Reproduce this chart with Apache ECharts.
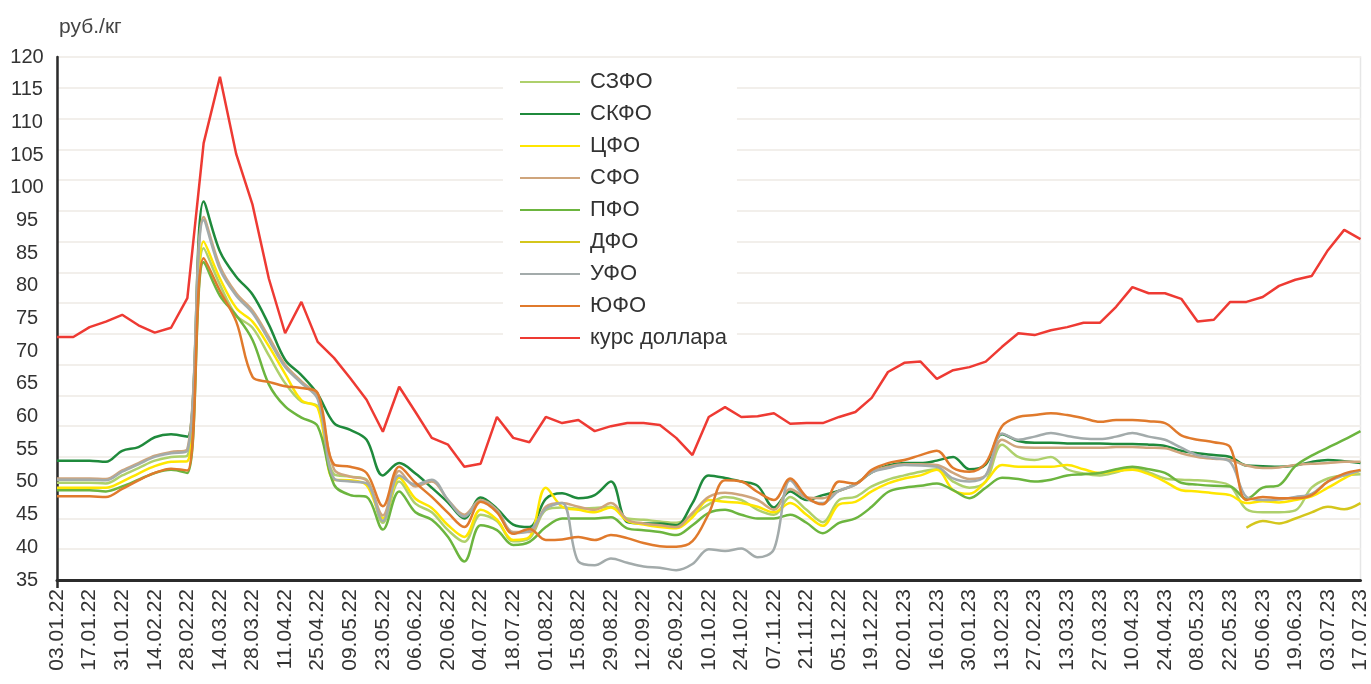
<!DOCTYPE html>
<html><head><meta charset="utf-8">
<script src="https://cdn.jsdelivr.net/npm/echarts@6/dist/echarts.min.js"></script>
<style>html,body{margin:0;padding:0;background:#fff}#c{width:1371px;height:684px}</style>
</head><body><div id="c"></div>
<script>
const dates = ['03.01.22','10.01.22','17.01.22','24.01.22','31.01.22','07.02.22','14.02.22','21.02.22','28.02.22','07.03.22',
'14.03.22','21.03.22','28.03.22','04.04.22','11.04.22','18.04.22','25.04.22','02.05.22','09.05.22','16.05.22',
'23.05.22','30.05.22','06.06.22','13.06.22','20.06.22','27.06.22','04.07.22','11.07.22','18.07.22','25.07.22',
'01.08.22','08.08.22','15.08.22','22.08.22','29.08.22','05.09.22','12.09.22','19.09.22','26.09.22','03.10.22',
'10.10.22','17.10.22','24.10.22','31.10.22','07.11.22','14.11.22','21.11.22','28.11.22','05.12.22','12.12.22',
'19.12.22','26.12.22','02.01.23','09.01.23','16.01.23','23.01.23','30.01.23','06.02.23','13.02.23','20.02.23',
'27.02.23','06.03.23','13.03.23','20.03.23','27.03.23','03.04.23','10.04.23','17.04.23','24.04.23','01.05.23',
'08.05.23','15.05.23','22.05.23','29.05.23','05.06.23','12.06.23','19.06.23','26.06.23','03.07.23','10.07.23','17.07.23'];

const yTickLabels = ['35','40','45','50','55','60','65','70','75','80','85','95','100','105','110','115','120'];

const szfo = [50.8,50.8,50.8,50.7,52.0,53.2,54.4,55.0,55.2,88.9,
83.0,78.0,76.0,71.5,67.0,64.0,63.2,52.2,51.8,51.3,
44.3,51.0,47.4,46.0,43.1,41.2,45.6,44.6,41.3,41.8,
46.4,46.8,46.6,46.7,46.9,45.0,44.8,44.5,44.3,45.6,
47.3,48.5,48.0,46.4,45.6,48.5,46.4,44.4,48.0,48.5,
50.2,51.3,52.0,52.6,53.0,51.0,50.0,51.0,57.0,55.0,
54.5,55.0,53.0,52.3,52.0,52.5,53.2,52.5,51.5,51.3,
51.2,51.0,50.3,46.5,46.0,46.0,46.3,50.0,51.5,52.0,52.2];

const skfo = [54.4,54.4,54.4,54.2,56.0,56.6,58.2,58.7,58.3,96.5,
88.4,84.3,81.4,76.5,70.8,68.3,65.2,60.5,59.4,57.8,
52.0,54.0,52.3,50.0,47.6,45.0,48.4,46.6,44.0,43.6,
48.2,49.1,48.3,48.8,51.0,44.4,44.2,44.2,43.9,47.5,
52.0,51.6,51.0,50.3,46.8,49.4,48.0,48.8,49.5,50.6,
52.5,53.6,54.0,54.0,54.4,55.0,53.0,53.8,58.7,57.6,
57.3,57.3,57.2,57.2,57.2,57.1,57.1,57.0,56.8,56.0,
55.6,55.3,55.0,53.6,53.5,53.4,53.6,54.2,54.5,54.3,54.0];

const cfo = [50.0,50.0,50.0,50.0,51.0,52.3,53.5,54.2,54.3,90.0,
84.0,79.2,77.0,73.0,68.5,64.2,63.0,51.3,51.2,50.4,
45.0,51.6,48.2,46.7,43.9,42.0,46.4,44.8,41.5,42.0,
50.0,46.9,46.4,46.0,46.8,44.6,44.0,43.6,43.4,45.2,
48.0,47.7,47.5,46.9,46.0,47.5,45.6,43.8,47.3,47.7,
49.4,50.7,51.5,52.0,52.9,49.6,49.0,51.0,53.7,53.4,
53.4,53.4,53.7,53.0,52.4,52.7,52.9,52.2,51.0,49.6,
49.4,49.1,48.8,47.5,47.8,47.6,48.0,48.6,50.0,51.5,52.8];

const sfo = [51.5,51.5,51.5,51.4,52.8,54.0,55.2,55.8,56.3,94.0,
86.0,81.6,78.8,74.5,70.0,67.3,64.7,53.0,51.8,51.2,
45.5,52.7,50.2,51.0,48.0,45.6,48.0,46.4,42.8,42.8,
46.9,47.5,46.9,46.4,47.5,44.8,44.2,43.9,43.6,45.9,
48.5,49.2,48.8,48.0,46.4,49.8,48.4,48.3,49.5,50.5,
52.6,53.4,53.8,53.8,53.7,52.4,51.4,52.0,57.8,56.6,
56.5,56.5,56.5,56.5,56.5,56.6,56.6,56.5,56.4,55.6,
55.0,54.7,54.5,53.6,53.2,53.3,53.7,53.9,54.0,54.2,54.2];

const pfo = [49.6,49.6,49.6,49.4,50.2,51.3,52.4,52.9,52.4,86.7,
81.2,78.0,74.0,66.8,63.2,61.4,60.0,50.5,48.8,48.5,
43.2,49.4,46.0,44.8,42.0,38.0,43.9,43.1,40.7,41.2,
43.6,45.0,45.0,45.0,45.2,43.4,43.1,42.8,42.3,43.9,
45.9,46.4,45.6,45.0,45.0,45.6,44.3,42.6,44.3,45.0,
46.9,49.3,50.0,50.3,50.7,49.6,48.3,50.0,51.6,51.4,
51.0,51.3,52.0,52.2,52.4,53.0,53.4,53.0,52.4,50.8,
50.5,50.3,50.2,48.2,50.0,50.4,53.5,55.2,56.5,57.8,59.2];

const dfo = [null,null,null,null,null,null,null,null,null,null,
null,null,null,null,null,null,null,null,null,null,
null,null,null,null,null,null,null,null,null,null,
null,null,null,null,null,null,null,null,null,null,
null,null,null,null,null,null,null,null,null,null,
null,null,null,null,null,null,null,null,null,null,
null,null,null,null,null,null,null,null,null,null,
null,null,null,43.5,44.6,44.2,45.0,46.0,46.9,46.5,47.5];

const ufo = [51.3,51.3,51.3,51.2,52.6,53.8,55.0,55.6,56.0,93.5,
85.5,81.2,78.4,74.0,69.6,67.0,64.4,51.5,51.0,50.7,
44.6,52.0,50.5,51.3,48.0,45.3,47.8,46.2,42.6,43.0,
46.6,47.5,38.0,37.4,38.5,37.8,37.2,37.0,36.6,37.6,
40.0,39.7,40.1,38.7,40.0,51.2,48.3,47.5,49.5,50.5,
52.5,53.2,53.7,53.6,53.4,51.5,51.0,52.0,58.8,57.8,
58.3,58.9,58.4,58.0,57.9,58.3,58.9,58.3,57.8,56.5,
55.3,54.8,54.2,48.5,48.0,48.1,48.5,49.0,51.0,52.0,52.8];

const yufo = [48.6,48.6,48.6,48.5,49.8,51.2,52.4,53.1,52.8,87.3,
82.0,77.0,68.0,67.2,66.5,66.2,65.4,53.8,53.4,52.4,
47.0,53.4,50.8,48.5,45.9,43.6,47.7,46.0,42.5,43.3,
41.5,41.6,42.0,41.5,42.3,41.8,41.0,40.5,40.4,41.3,
45.8,51.2,51.0,49.3,48.0,51.5,48.5,47.3,51.0,50.7,
52.9,54.0,54.5,55.3,56.0,53.2,52.6,54.0,60.0,61.5,
61.8,62.1,61.8,61.3,60.7,61.0,61.0,60.8,60.5,58.5,
57.8,57.4,56.6,48.0,48.5,48.3,48.3,48.8,51.0,52.3,52.9];

const usd = [74.5,74.5,76.1,77.0,78.1,76.4,75.2,76.0,80.8,106.0,
116.8,104.2,96.0,84.0,75.1,80.2,73.7,71.1,67.8,64.3,
59.1,66.4,62.3,58.1,57.0,53.4,53.9,61.5,58.1,57.4,
61.5,60.5,61.0,59.2,60.0,60.5,60.5,60.2,58.1,55.3,
61.5,63.1,61.5,61.6,62.1,60.4,60.5,60.5,61.5,62.3,
64.6,68.8,70.3,70.5,67.7,69.1,69.6,70.5,72.9,75.1,
74.8,75.6,76.1,76.8,76.8,79.4,82.6,81.6,81.6,80.7,
77.0,77.3,80.2,80.2,81.0,82.8,83.8,84.4,88.6,91.9,90.4];

const seriesNames = ['СЗФО','СКФО','ЦФО','СФО','ПФО','ДФО','УФО','ЮФО','курс доллара'];
const seriesData = [szfo, skfo, cfo, sfo, pfo, dfo, ufo, yufo, usd];
const seriesColors = ['#aed06c','#1f8a3c','#ffe600','#cfa57c','#6cb53f','#d4c61c','#a3abab','#e07a2c','#ee3a33'];

const FONT = "'Liberation Sans', Arial, sans-serif";
const chart = echarts.init(document.getElementById('c'), null, {renderer: 'canvas'});

const series = seriesNames.map((name, k) => ({
  name: name,
  type: 'line',
  data: seriesData[k],
  smooth: k === 8 ? false : 0.35,
  symbol: 'none',
  connectNulls: false,
  lineStyle: { color: seriesColors[k], width: 2.5 },
  itemStyle: { color: seriesColors[k] },
  z: k === 8 ? 5 : 3
}));

chart.setOption({
  animation: false,
  backgroundColor: '#fff',
  textStyle: { fontFamily: FONT },
  title: {
    text: 'руб./кг', left: 54, top: 12,
    textStyle: { fontFamily: FONT, fontSize: 21, fontWeight: 'normal', color: '#444' }
  },
  legend: {
    orient: 'vertical', left: 503, top: 60,
    padding: [10, 10, 10, 17],
    backgroundColor: '#ffffff',
    itemWidth: 60, itemHeight: 14, itemGap: 8,
    icon: 'path://M0,6 L60,6 L60,8 L0,8 Z',
    textStyle: { fontFamily: FONT, fontSize: 22, color: '#333', lineHeight: 24, padding: [0,0,0,5] },
    data: seriesNames
  },
  grid: { left: 57, right: 10, top: 57, bottom: 104, show: true, borderColor: '#e6e6e6', borderWidth: 1.5, containLabel: false },
  xAxis: {
    type: 'category', data: dates, boundaryGap: false,
    axisLine: { lineStyle: { color: '#2b2b2b', width: 3 } },
    axisTick: { show: true, interval: (i) => i === 0, length: 8, lineStyle: { color: '#2b2b2b', width: 2.5 } },
    axisLabel: { interval: 1, rotate: 90, margin: 9, fontSize: 21, color: '#333', fontFamily: FONT },
    splitLine: { show: false }
  },
  yAxis: [{
    type: 'value', min: 35, max: 120, interval: 5,
    axisLine: { show: true, lineStyle: { color: '#2b2b2b', width: 2.5 } },
    axisTick: { show: false },
    axisLabel: { show: false },
    splitLine: { show: true, lineStyle: { color: '#f2efeb', width: 2 } }
  }, {
    type: 'value', min: 0, max: 16, interval: 1, position: 'left', offset: 0,
    axisLine: { show: false }, axisTick: { show: false }, splitLine: { show: false },
    axisLabel: { formatter: (v) => yTickLabels[v] ?? '', align: 'center', margin: 30, fontSize: 20, color: '#333', fontFamily: FONT }
  }],
  series: series
});
</script></body></html>
